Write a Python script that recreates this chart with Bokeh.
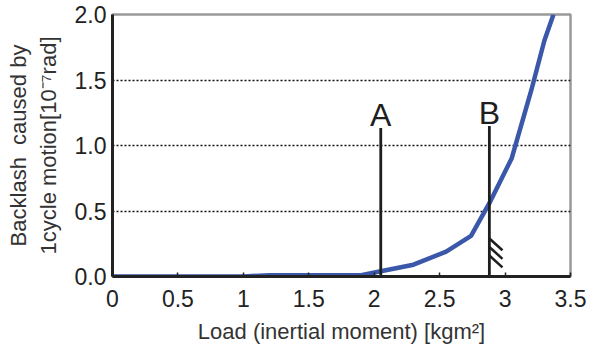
from bokeh.plotting import figure
from bokeh.models import FixedTicker, Range1d
from bokeh.core.properties import value
from bokeh.embed import file_html
from bokeh.resources import INLINE

# Data
load = [0.0, 1.0, 1.2, 1.9, 2.05, 2.3, 2.55, 2.74, 2.88, 3.05, 3.2, 3.3, 3.37]
backlash = [0.0, 0.0, 0.01, 0.01, 0.04, 0.09, 0.19, 0.31, 0.56, 0.9, 1.42, 1.8, 2.0]

marker_names = ["A", "B"]
marker_x = [2.05, 2.88]
marker_top = [1.133, 1.148]

x_ticks = [0, 0.5, 1, 1.5, 2, 2.5, 3, 3.5]
x_tick_labels = ["0", "0.5", "1", "1.5", "2", "2.5", "3", "3.5"]
y_ticks = [0, 0.5, 1.0, 1.5, 2.0]
y_tick_labels = ["0.0", "0.5", "1.0", "1.5", "2.0"]
grid_ticks = [0.5, 1.0, 1.5]

FONT = "Liberation Sans"

p = figure(width=588, height=346, output_backend="svg", toolbar_location=None,
           x_range=Range1d(0, 3.5), y_range=Range1d(0, 2.0),
           min_border_left=112, min_border_right=18, min_border_top=14, min_border_bottom=0)

p.outline_line_color = "#999999"
p.outline_line_width = 2.5

p.xgrid.visible = False
p.ygrid.ticker = FixedTicker(ticks=grid_ticks)
p.ygrid.grid_line_color = "#111111"
p.ygrid.grid_line_dash = "2 2"
p.ygrid.grid_line_width = 1.5

# axes
p.xaxis.ticker = FixedTicker(ticks=x_ticks)
p.xaxis.major_label_overrides = {t: l for t, l in zip(x_ticks, x_tick_labels)}
p.yaxis.ticker = FixedTicker(ticks=y_ticks)
p.yaxis.major_label_overrides = {t: l for t, l in zip(y_ticks, y_tick_labels)}

for ax in (p.xaxis, p.yaxis):
    ax.axis_line_color = "#222222"
    ax.axis_line_width = 3
    ax.minor_tick_line_color = None
    ax.major_label_text_font = FONT
    ax.major_label_text_font_size = "23px"
    ax.major_label_text_color = "#222222"
    ax.axis_label_text_font = FONT
    ax.axis_label_text_font_size = "22px"
    ax.axis_label_text_font_style = "normal"
    ax.axis_label_text_color = "#333333"

p.xaxis.major_tick_in = 4
p.xaxis.major_tick_out = 0
p.xaxis.major_tick_line_width = 1.5
p.xaxis.major_tick_line_color = "#222222"
p.xaxis.major_label_standoff = 13
p.xaxis.axis_label = "Load (inertial moment) [kgm\u00b2]"
p.xaxis.axis_label_standoff = 9

p.yaxis.major_tick_in = 0
p.yaxis.major_tick_out = 0
p.yaxis.major_label_standoff = 6
p.yaxis.axis_label = "Backlash\u00a0 caused by\n1cycle motion[10\u207b\u2077rad]"
p.yaxis.axis_label_standoff = 11

# curve
p.line(load, backlash, line_color="#3a57a9", line_width=4.5)

# marker lines A and B
p.segment(x0=marker_x, y0=[0, 0], x1=marker_x, y1=marker_top,
          line_color="#1e1e1e", line_width=2.8)
p.text(x=marker_x, y=marker_top, text=marker_names,
       text_font=value(FONT), text_font_size="32px", text_color="#1e1e1e",
       text_align="center", text_baseline="bottom", y_offset=5)

# hatch at B
bx = marker_x[1]
hx0 = [bx] * 3
hy0 = [0.29, 0.225, 0.16]
hx1 = [bx + 0.1] * 3
hy1 = [0.2, 0.135, 0.07]
p.segment(x0=hx0, y0=hy0, x1=hx1, y1=hy1, line_color="#1e1e1e", line_width=2.5)

open("out.html", "w").write(file_html(p, INLINE))
